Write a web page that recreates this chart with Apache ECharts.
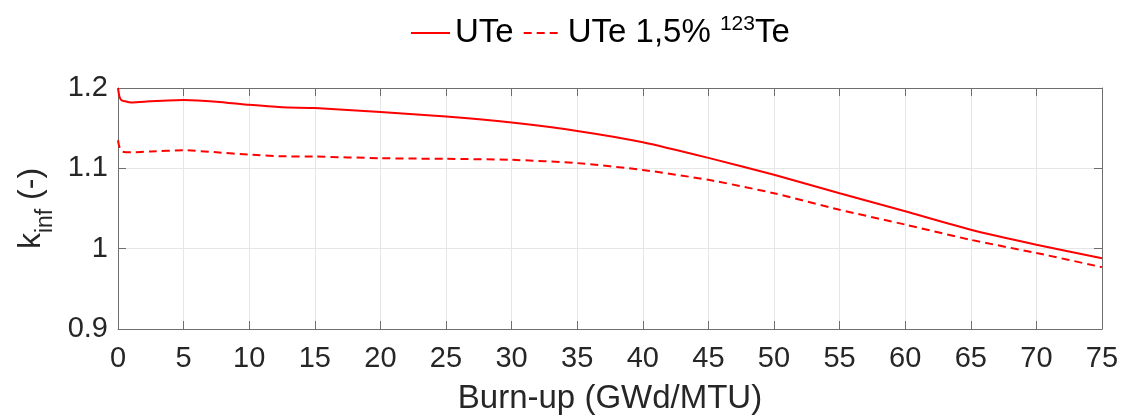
<!DOCTYPE html>
<html>
<head>
<meta charset="utf-8">
<script src="https://cdn.jsdelivr.net/npm/echarts@6/dist/echarts.min.js"></script>
<style>
html,body{margin:0;padding:0;background:#fff;}
#chart{width:1122px;height:420px;}
</style>
</head>
<body>
<div id="chart"></div>
<script>
// Burn-up (GWd/MTU)
const burnupUTe = [0, 0.1, 0.25, 1, 2, 5, 7.5, 10, 12.5, 15, 20, 25, 30, 35, 40, 45, 50, 55, 60, 65, 70, 75];
const kinfUTe   = [1.2, 1.19, 1.185, 1.182, 1.183, 1.185, 1.183, 1.179, 1.176, 1.175, 1.170, 1.1645, 1.157, 1.1466, 1.1325, 1.113, 1.092, 1.069, 1.0465, 1.0236, 1.005, 0.988];
const burnupTe  = [0, 0.1, 0.3, 1, 2.5, 5, 7.5, 10, 12.5, 15, 20, 25, 30, 35, 40, 45, 50, 55, 60, 65, 70, 75];
const kinfTe    = [1.135, 1.127, 1.121, 1.12, 1.121, 1.1225, 1.12, 1.117, 1.115, 1.1147, 1.1126, 1.1118, 1.1106, 1.1065, 1.098, 1.0857, 1.069, 1.0484, 1.030, 1.011, 0.9946, 0.977];
const seriesNames = ['UTe', 'UTe 1,5% 123Te'];
const xTicks = {min: 0, max: 75, interval: 5};
const yTicks = {min: 0.9, max: 1.2, interval: 0.1};

const font = 'Liberation Sans, Arial, Helvetica, sans-serif';
const axisColor = '#6e6e6e';
const textColor = '#262626';

const chart = echarts.init(document.getElementById('chart'), null, {renderer: 'canvas'});
const pairs = (xs, ys) => xs.map((x, i) => [x, ys[i]]);

chart.setOption({
  animation: false,
  backgroundColor: '#fff',
  textStyle: {fontFamily: font},
  grid: {left: 118, right: 20, top: 88, bottom: 90, containLabel: false},
  legend: {
    left: 410, top: 14, padding: 0,
    itemWidth: 39, itemHeight: 14, itemGap: 9,
    itemStyle: {opacity: 0},
    textStyle: {
      fontFamily: font, fontSize: 33, color: '#000',
      rich: {
        n: {fontFamily: font, fontSize: 33, color: '#000', lineHeight: 38, verticalAlign: 'middle'},
        sup: {fontFamily: font, fontSize: 21, color: '#000', lineHeight: 25, verticalAlign: 'top'}
      }
    },
    formatter: function (name) {
      if (name === seriesNames[1]) return '{n|UTe 1,5% }{sup|123}{n|Te}';
      return '{n|' + name + '}';
    },
    data: seriesNames
  },
  xAxis: [{
    type: 'value', min: xTicks.min, max: xTicks.max, interval: xTicks.interval,
    name: 'Burn-up (GWd/MTU)', nameLocation: 'middle', nameGap: 53,
    nameTextStyle: {fontFamily: font, fontSize: 33, color: textColor},
    axisLine: {show: true, onZero: false, lineStyle: {color: axisColor, width: 1}},
    axisTick: {show: true, inside: true, length: 8, lineStyle: {color: axisColor}},
    axisLabel: {fontFamily: font, fontSize: 29, color: textColor, margin: 15},
    splitLine: {show: true, lineStyle: {color: '#e6e6e6', width: 1}}
  }, {
    type: 'value', position: 'top', min: xTicks.min, max: xTicks.max, interval: xTicks.interval,
    axisLine: {show: true, onZero: false, lineStyle: {color: axisColor, width: 1}},
    axisTick: {show: true, inside: true, length: 8, lineStyle: {color: axisColor}},
    axisLabel: {show: false}, splitLine: {show: false}
  }],
  yAxis: [{
    type: 'value', min: yTicks.min, max: yTicks.max, interval: yTicks.interval,
    name: '{k|k}{sub|inf}{k| (-)}', nameLocation: 'middle', nameGap: 70, nameRotate: 90,
    nameTextStyle: {
      fontFamily: font, fontSize: 32, color: textColor,
      rich: {
        k: {fontFamily: font, fontSize: 32, color: textColor, lineHeight: 32, verticalAlign: 'top'},
        sub: {fontFamily: font, fontSize: 23, color: textColor, lineHeight: 23, verticalAlign: 'top', padding: [19, 0, 0, 0]}
      }
    },
    axisLine: {show: true, onZero: false, lineStyle: {color: axisColor, width: 1}},
    axisTick: {show: true, inside: true, length: 8, lineStyle: {color: axisColor}},
    axisLabel: {fontFamily: font, fontSize: 29, color: textColor, margin: 10},
    splitLine: {show: true, lineStyle: {color: '#e6e6e6', width: 1}}
  }, {
    type: 'value', position: 'right', min: yTicks.min, max: yTicks.max, interval: yTicks.interval,
    axisLine: {show: true, onZero: false, lineStyle: {color: axisColor, width: 1}},
    axisTick: {show: true, inside: true, length: 8, lineStyle: {color: axisColor}},
    axisLabel: {show: false}, splitLine: {show: false}
  }],
  series: [{
    name: seriesNames[0], type: 'line', xAxisIndex: 0, yAxisIndex: 0,
    data: pairs(burnupUTe, kinfUTe),
    showSymbol: false, symbol: 'none', smooth: 0.2,
    lineStyle: {color: '#ff0000', width: 2, type: 'solid'},
    itemStyle: {color: '#ff0000'}
  }, {
    name: seriesNames[1], type: 'line', xAxisIndex: 0, yAxisIndex: 0,
    data: pairs(burnupTe, kinfTe),
    showSymbol: false, symbol: 'none', smooth: 0.2,
    lineStyle: {color: '#ff0000', width: 2, type: [8, 5]},
    itemStyle: {color: '#ff0000'}
  }]
});
</script>
</body>
</html>
